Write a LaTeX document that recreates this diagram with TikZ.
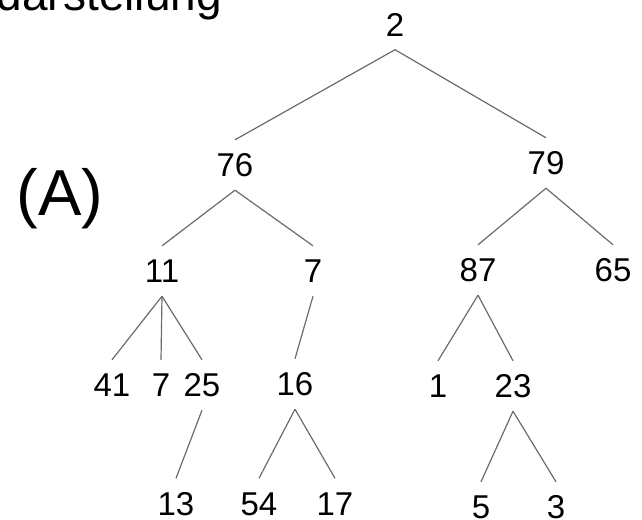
\documentclass[tikz,border=0pt]{standalone}
\usepackage{fontspec}
\setmainfont{Liberation Sans}
\begin{document}
\begin{tikzpicture}[x=1pt,y=-1pt,
  key/.style={font=\fontsize{33}{33}\selectfont, inner sep=0pt,
              text height=23.5pt, text depth=0pt},
  branch/.style={draw=black!58, line width=1.2pt}]
\useasboundingbox (0,0) rectangle (642,519);
\clip (0,0) rectangle (642,519);

% heading (runs off the top edge) and panel label
\node[anchor=base east, font=\fontsize{46}{46}\selectfont, inner sep=0pt] (title) at (222,10.5) {darstellung};
\node[anchor=base, font=\fontsize{65}{65}\selectfont, inner sep=0pt] (panel) at (60,215) {(A)};

% tree keys
\node[key] (n2)  at (395,24.5) {2};
\node[key] (n76) at (235,165) {76};
\node[key] (n79) at (546,163) {79};
\node[key] (n11) at (162,271) {11};
\node[key] (n7a) at (313,271) {7};
\node[key] (n87) at (478,270) {87};
\node[key] (n65) at (613,270) {65};
\node[key] (n41) at (112,385) {41};
\node[key] (n7b) at (161,385) {7};
\node[key] (n25) at (202,385) {25};
\node[key] (n16) at (295,384) {16};
\node[key] (n1)  at (438,386) {1};
\node[key] (n23) at (513,386) {23};
\node[key] (n13) at (176,503.5) {13};
\node[key] (n54) at (259,503.5) {54};
\node[key] (n17) at (335,503.5) {17};
\node[key] (n5)  at (481,507) {5};
\node[key] (n3)  at (556,507) {3};

% branches, leaving a gap below the parent and above the child
\foreach \p/\c in {n2/n76, n2/n79, n76/n11, n76/n7a, n79/n87, n79/n65,
                   n11/n41, n11/n7b, n11/n25, n7a/n16, n87/n1, n87/n23,
                   n25/n13, n16/n54, n16/n17, n23/n5, n23/n3}
  \draw[branch] ([yshift=-13.25pt]\p.south) -- ([yshift=13.25pt]\c.north);
\end{tikzpicture}
\end{document}
